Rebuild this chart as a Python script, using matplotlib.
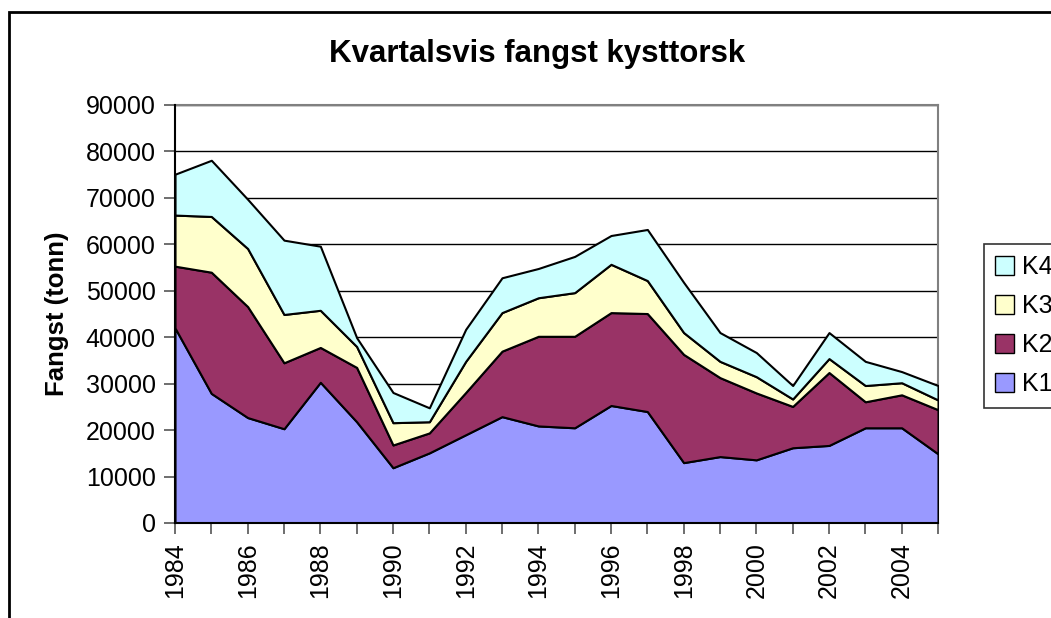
import matplotlib.pyplot as plt
from matplotlib.patches import Rectangle, Patch

plt.rcParams['font.family'] = ['Liberation Sans', 'DejaVu Sans']

# data (tonn per quarter)
years = list(range(1984, 2006))
k1 = [42000, 27900, 22700, 20300, 30300, 21800, 11900, 15100, 19000, 22900, 20900,
      20500, 25300, 24000, 13000, 14300, 13600, 16200, 16700, 20500, 20500, 14900]
k2 = [13300, 26100, 23900, 14200, 7500, 11700, 4900, 4300, 9100, 14100, 19300,
      19700, 20000, 21100, 23300, 17000, 14400, 8900, 15700, 5600, 7100, 9500]
k3 = [11000, 12000, 12500, 10400, 8000, 4500, 4800, 2400, 6700, 8300, 8300,
      9400, 10400, 7100, 4700, 3500, 3500, 1600, 3000, 3500, 2600, 2100]
k4 = [8800, 12100, 10600, 16000, 13800, 1900, 6500, 3000, 6900, 7500, 6300,
      7800, 6200, 11000, 10800, 6200, 5200, 2900, 5600, 5200, 2400, 3100]
series_names = ['K1', 'K2', 'K3', 'K4']
colors = ['#9999FF', '#993366', '#FFFFCC', '#CCFFFF']

fig = plt.figure(figsize=(10.51, 6.18), dpi=100)
ax = fig.add_axes([175 / 1051, 1 - 523 / 618, (938 - 175) / 1051, (523 - 105) / 618])

ax.stackplot(years, k1, k2, k3, k4, colors=colors, edgecolor='black', linewidth=1.5,
             zorder=3)

ax.set_xlim(1984, 2005)
ax.set_ylim(0, 90000)
ax.set_yticks(range(0, 90001, 10000))
ax.set_xticks(years)
ax.set_xticklabels([str(y) if y % 2 == 0 else '' for y in years], rotation=90)
ax.tick_params(axis='both', labelsize=18, color='#555555', length=8, width=1.2)
ax.tick_params(axis='x', pad=6)
ax.tick_params(axis='y', pad=6)
ax.yaxis.grid(True, color='black', linewidth=1, zorder=1)
ax.set_axisbelow(True)

for side in ['top', 'right']:
    ax.spines[side].set_color('#808080')
    ax.spines[side].set_linewidth(1.5)
for side in ['left', 'bottom']:
    ax.spines[side].set_color('black')
    ax.spines[side].set_linewidth(1.5)
    ax.spines[side].set_zorder(4)

ax.set_ylabel('Fangst (tonn)', fontsize=18.5, fontweight='bold', labelpad=12)
fig.text(537 / 1051, 1 - 54 / 618, 'Kvartalsvis fangst kysttorsk', fontsize=22.5,
         fontweight='bold', ha='center', va='center')

handles = [Patch(facecolor=c, edgecolor='black', linewidth=1) for c in colors][::-1]
leg = fig.legend(handles, series_names[::-1], loc='upper left',
                 bbox_to_anchor=(984 / 1051, 1 - 244 / 618), fontsize=18,
                 frameon=True, fancybox=False, handlelength=0.75, handleheight=0.75,
                 handletextpad=0.3, labelspacing=0.6, borderpad=0.45, borderaxespad=0)
leg.get_frame().set_edgecolor('black')
leg.get_frame().set_linewidth(1.2)

# outer chart border (cropped at right and bottom)
fig.patches.append(Rectangle((9 / 1051, -0.1), 1.2, 1 - 12 / 618 + 0.1,
                             transform=fig.transFigure, fill=False,
                             edgecolor='black', linewidth=2))

fig.savefig('out.png', dpi=100)
